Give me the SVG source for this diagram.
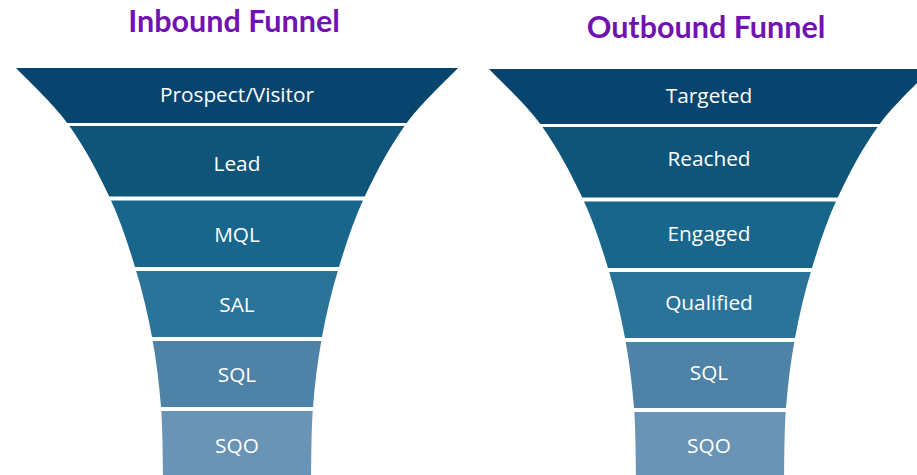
<svg xmlns="http://www.w3.org/2000/svg" width="917" height="475" viewBox="0 0 917 475">
  <style>
    .title { font-family: "Lato", "Open Sans", sans-serif; font-weight: bold; font-size: 30.5px; fill: #7112b2; text-anchor: middle; }
    .label { font-family: "Open Sans", "Noto Sans", sans-serif; font-size: 20.8px; fill: #ffffff; text-anchor: middle; }
    .s1 { fill: #07456e; }
    .s2 { fill: #0f5479; }
    .s3 { fill: #19668c; }
    .s4 { fill: #2b7499; }
    .s5 { fill: #4e82a6; }
    .s6 { fill: #6994b5; }
  </style>
  <defs>
    <!-- funnel outline, centred on x=237 -->
    <clipPath id="funnelShape">
      <path d="M16,68 C24.7,77.3 52.5,102.7 68,124 C83.5,145.3 97.8,172.2 109,196 C120.2,219.8 127.8,243.5 135,267 C142.2,290.5 147.7,313.7 152,337 C156.3,360.3 159.2,384 161,407 C162.8,430 162.7,463.7 163,480 L311,480 C311.3,463.7 311.2,430 313,407 C314.8,384 317.7,360.3 322,337 C326.3,313.7 331.8,290.5 339,267 C346.2,243.5 353.8,219.8 365,196 C376.2,172.2 390.5,145.3 406,124 C421.5,102.7 449.3,77.3 458,68 Z"/>
    </clipPath>
  </defs>

  <g id="inbound-title">
    <text class="title" x="234" y="32">Inbound Funnel</text>
  </g>
  <g id="outbound-title">
    <text class="title" x="706" y="38">Outbound Funnel</text>
  </g>

  <!-- Inbound funnel stages -->
  <g id="inbound-funnel" clip-path="url(#funnelShape)">
    <g id="in-prospect"><rect class="s1" x="0" y="68" width="480" height="55"/><text class="label" x="237" y="102">Prospect/Visitor</text></g>
    <g id="in-lead"><rect class="s2" x="0" y="126" width="480" height="70.5"/><text class="label" x="237" y="171">Lead</text></g>
    <g id="in-mql"><rect class="s3" x="0" y="200.5" width="480" height="66.5"/><text class="label" x="237" y="242">MQL</text></g>
    <g id="in-sal"><rect class="s4" x="0" y="271" width="480" height="66"/><text class="label" x="237" y="312">SAL</text></g>
    <g id="in-sql"><rect class="s5" x="0" y="341" width="480" height="66"/><text class="label" x="237" y="382">SQL</text></g>
    <g id="in-sqo"><rect class="s6" x="0" y="411" width="480" height="70"/><text class="label" x="237" y="453">SQO</text></g>
  </g>

  <!-- Outbound funnel stages -->
  <g transform="translate(473,1)">
    <g id="outbound-funnel" clip-path="url(#funnelShape)">
      <g id="out-targeted"><rect class="s1" x="0" y="68" width="480" height="55"/><text class="label" x="236" y="102">Targeted</text></g>
      <g id="out-reached"><rect class="s2" x="0" y="126" width="480" height="70.5"/><text class="label" x="236" y="165">Reached</text></g>
      <g id="out-engaged"><rect class="s3" x="0" y="200.5" width="480" height="66.5"/><text class="label" x="236" y="240">Engaged</text></g>
      <g id="out-qualified"><rect class="s4" x="0" y="271" width="480" height="66"/><text class="label" x="236" y="309">Qualified</text></g>
      <g id="out-sql"><rect class="s5" x="0" y="341" width="480" height="66"/><text class="label" x="236" y="379">SQL</text></g>
      <g id="out-sqo"><rect class="s6" x="0" y="411" width="480" height="70"/><text class="label" x="236" y="452">SQO</text></g>
    </g>
  </g>
</svg>
